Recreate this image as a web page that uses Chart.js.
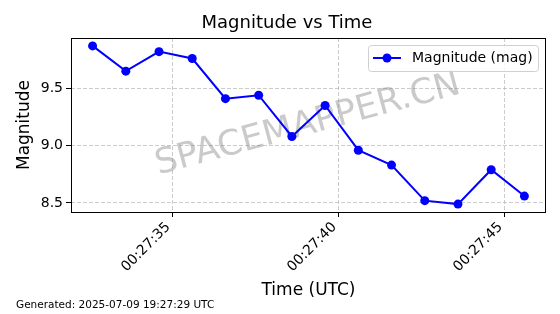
<!DOCTYPE html>
<html>
<head>
<meta charset="utf-8">
<script src="https://cdn.jsdelivr.net/npm/chart.js@4.4.1/dist/chart.umd.min.js"></script>
<style>
  html, body { margin: 0; padding: 0; background: #ffffff; }
</style>
</head>
<body>
<canvas id="magChart" width="560" height="314"></canvas>
<script>
// data
const timeLabels = ["00:27:32.6", "00:27:33.6", "00:27:34.6", "00:27:35.6", "00:27:36.6",
                    "00:27:37.6", "00:27:38.6", "00:27:39.6", "00:27:40.6", "00:27:41.6",
                    "00:27:42.6", "00:27:43.6", "00:27:44.6", "00:27:45.6"];
const magnitudes = [9.87, 9.65, 9.82, 9.76, 9.41, 9.44, 9.08, 9.35, 8.96, 8.83, 8.52, 8.49, 8.79, 8.56];
const xTickLabels = ["00:27:35", "00:27:40", "00:27:45"];
const yTickValues = [8.5, 9.0, 9.5];

// "HH:MM:SS(.s)" -> seconds since midnight (no date adapter needed)
function toSeconds(str) {
    const p = str.split(':').map(Number);
    return p[0] * 3600 + p[1] * 60 + p[2];
}
function fmtTime(sec) {
    const h = Math.floor(sec / 3600), m = Math.floor((sec % 3600) / 60), s = Math.round(sec % 60);
    const pad = n => String(n).padStart(2, '0');
    return `${pad(h)}:${pad(m)}:${pad(s)}`;
}

const points = timeLabels.map((t, i) => ({ x: toSeconds(t), y: magnitudes[i] }));
const xs = points.map(p => p.x);
const xSpan = Math.max(...xs) - Math.min(...xs);
const ySpan = Math.max(...magnitudes) - Math.min(...magnitudes);

const FONT = '"DejaVu Sans", sans-serif';
const gridColor = 'rgba(176,176,176,0.65)';

// title, watermark, frame, legend and footer
const decorPlugin = {
    id: 'decor',
    beforeDatasetsDraw(chart) {
        const ctx = chart.ctx;
        ctx.save();
        ctx.translate(308, 125);
        ctx.rotate(-15 * Math.PI / 180);
        ctx.font = `35px ${FONT}`;
        ctx.fillStyle = 'rgba(128,128,128,0.42)';
        ctx.textAlign = 'center';
        ctx.textBaseline = 'middle';
        ctx.fillText('SPACEMAPPER.CN', 0, 0);
        ctx.restore();
    },
    afterDraw(chart) {
        const { ctx, chartArea: a } = chart;
        ctx.save();
        // frame on all four sides
        ctx.strokeStyle = '#000';
        ctx.lineWidth = 1;
        ctx.strokeRect(Math.round(a.left) + 0.5, Math.round(a.top) + 0.5,
                       Math.round(a.right - a.left) - 1, Math.round(a.bottom - a.top));

        // title
        ctx.fillStyle = '#000';
        ctx.font = `18px ${FONT}`;
        ctx.textAlign = 'center';
        ctx.textBaseline = 'middle';
        ctx.fillText('Magnitude vs Time', 287, 23);

        // legend box
        const lx = 368, ly = 45, lw = 170, lh = 26;
        ctx.fillStyle = 'rgba(255,255,255,0.8)';
        ctx.strokeStyle = '#d0d0d0';
        ctx.beginPath();
        ctx.roundRect(lx + 0.5, ly + 0.5, lw, lh, 3);
        ctx.fill();
        ctx.stroke();
        ctx.strokeStyle = '#0000ff';
        ctx.lineWidth = 2;
        ctx.beginPath();
        ctx.moveTo(373, 58);
        ctx.lineTo(401, 58);
        ctx.stroke();
        ctx.fillStyle = '#0000ff';
        ctx.beginPath();
        ctx.arc(387, 58, 4.5, 0, Math.PI * 2);
        ctx.fill();
        ctx.fillStyle = '#000';
        ctx.font = `14px ${FONT}`;
        ctx.textAlign = 'left';
        ctx.fillText('Magnitude (mag)', 412, 58);

        // footer
        ctx.font = `10.5px ${FONT}`;
        ctx.fillText('Generated: 2025-07-09 19:27:29 UTC', 16, 305);
        ctx.restore();
    }
};

new Chart(document.getElementById('magChart'), {
    type: 'line',
    data: {
        datasets: [{
            label: 'Magnitude (mag)',
            data: points,
            borderColor: '#0000ff',
            backgroundColor: '#0000ff',
            borderWidth: 2,
            pointRadius: 4.5,
            pointBorderWidth: 0,
            pointBackgroundColor: '#0000ff',
            tension: 0
        }]
    },
    options: {
        responsive: false,
        animation: false,
        devicePixelRatio: 1,
        layout: { padding: { top: 38, right: 14, left: 14, bottom: 13 } },
        plugins: {
            legend: { display: false },
            title: { display: false },
            tooltip: { enabled: false }
        },
        scales: {
            x: {
                type: 'linear',
                min: Math.min(...xs) - xSpan * 0.05,
                max: Math.max(...xs) + xSpan * 0.05,
                afterBuildTicks: s => { s.ticks = xTickLabels.map(t => ({ value: toSeconds(t) })); },
                afterFit: s => { s.height = 89; },
                ticks: {
                    color: '#000',
                    font: { family: FONT, size: 14 },
                    minRotation: 45,
                    maxRotation: 45,
                    autoSkip: false,
                    padding: 2,
                    labelOffset: -4,
                    callback: v => fmtTime(v)
                },
                grid: { color: gridColor, tickColor: '#000', tickLength: 5, tickBorderDash: [] },
                border: { display: false, dash: [4, 2] },
                title: {
                    display: true, text: 'Time (UTC)', color: '#000',
                    font: { family: FONT, size: 17 }, padding: { top: 0, bottom: 0 }
                }
            },
            y: {
                min: Math.min(...magnitudes) - ySpan * 0.05,
                max: Math.max(...magnitudes) + ySpan * 0.05,
                afterBuildTicks: s => { s.ticks = yTickValues.map(v => ({ value: v })); },
                afterFit: s => { s.width = 57; },
                ticks: {
                    color: '#000',
                    font: { family: FONT, size: 14 },
                    padding: 3,
                    callback: v => Number(v).toFixed(1)
                },
                grid: { color: gridColor, tickColor: '#000', tickLength: 5, tickBorderDash: [] },
                border: { display: false, dash: [4, 2] },
                title: {
                    display: true, text: 'Magnitude', color: '#000',
                    font: { family: FONT, size: 17 }, padding: { top: 0, bottom: 0 }
                }
            }
        }
    },
    plugins: [decorPlugin]
});
</script>
</body>
</html>
